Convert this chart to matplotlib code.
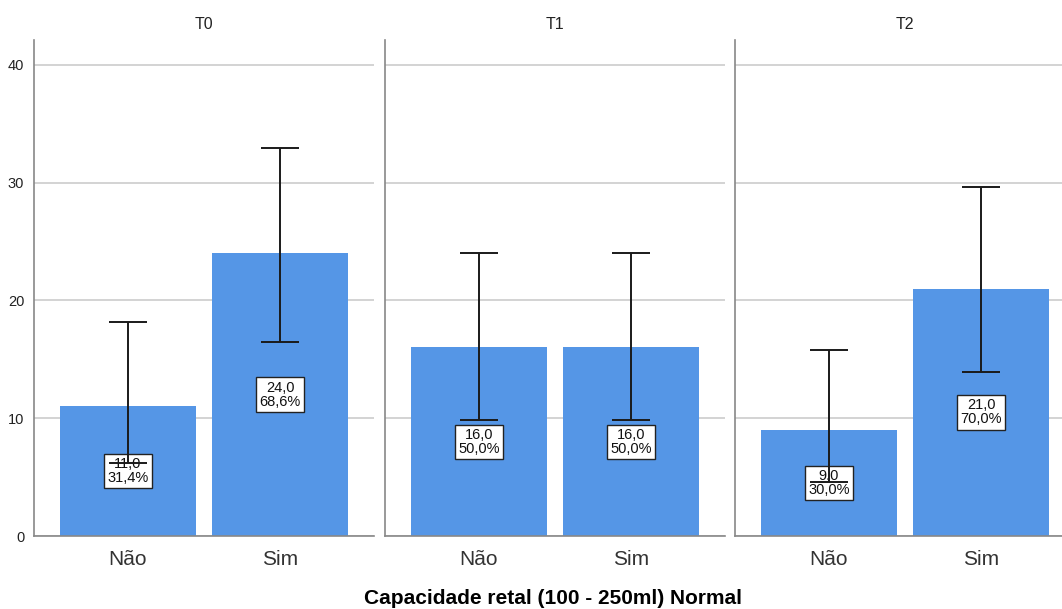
import matplotlib
matplotlib.use("Agg")
import matplotlib.pyplot as plt

plt.rcParams['font.family'] = ['Liberation Sans', 'DejaVu Sans']

# data
panels = ['T0', 'T1', 'T2']
categories = ['Não', 'Sim']
counts = [[11, 24], [16, 16], [9, 21]]
percents = [['31,4%', '68,6%'], ['50,0%', '50,0%'], ['30,0%', '70,0%']]
ci_low = [[6.2, 16.5], [9.85, 9.85], [4.6, 13.9]]
ci_high = [[18.2, 32.95], [24.05, 24.05], [15.8, 29.6]]
yticks = [0, 10, 20, 30, 40]

bar_color = '#5596e6'
W, H = 1062, 609
fig = plt.figure(figsize=(W / 100, H / 100), dpi=100)

lefts = [34, 385, 735]
pw = 340
for i, name in enumerate(panels):
  ax = fig.add_axes([lefts[i] / W, (H - 536) / H, pw / W, (536 - 40) / H])
  x = [0, 1]
  ax.bar(x, counts[i], width=0.895, color=bar_color, zorder=2)
  for j in x:
    c = counts[i][j]
    # count + percent label in a white box at half height
    ax.text(j, c / 2, ('%.1f' % c).replace('.', ',') + '\n' + percents[i][j],
            fontsize=10.5, ha='center', va='center', linespacing=1.0, zorder=3,
            color='#111111',
            bbox=dict(boxstyle='square,pad=0.22', fc='white', ec='#222222', lw=1))
    lo = c - ci_low[i][j]
    hi = ci_high[i][j] - c
    ax.errorbar(j, c, yerr=[[lo], [hi]], fmt='none', ecolor='#1a1a1a',
                elinewidth=1.4, capsize=13.5, capthick=1.4, zorder=4)
  ax.set_xlim(-0.618, 1.618)
  ax.set_ylim(0, 42.1)
  ax.set_yticks(yticks)
  ax.yaxis.grid(True, color='#c8c8c8', lw=1.1, zorder=0)
  ax.set_axisbelow(True)
  ax.set_xticks(x)
  ax.set_xticklabels(categories, fontsize=15, color='#333333')
  ax.tick_params(axis='both', length=0)
  ax.tick_params(axis='x', pad=10)
  ax.tick_params(axis='y', pad=7)
  if i == 0:
    ax.set_yticklabels([str(t) for t in yticks], fontsize=10.5, color='#222222')
  else:
    ax.set_yticklabels([])
  for s in ['top', 'right']:
    ax.spines[s].set_visible(False)
  for s in ['left', 'bottom']:
    ax.spines[s].set_color('#888888')
    ax.spines[s].set_linewidth(1.2)
  ax.set_title(name, fontsize=11.5, pad=8, color='#222222')

fig.text(553 / W, 1 - 598 / H, 'Capacidade retal (100 - 250ml) Normal',
         ha='center', va='center', fontsize=15, fontweight='bold')

fig.savefig('out.png', dpi=100)
